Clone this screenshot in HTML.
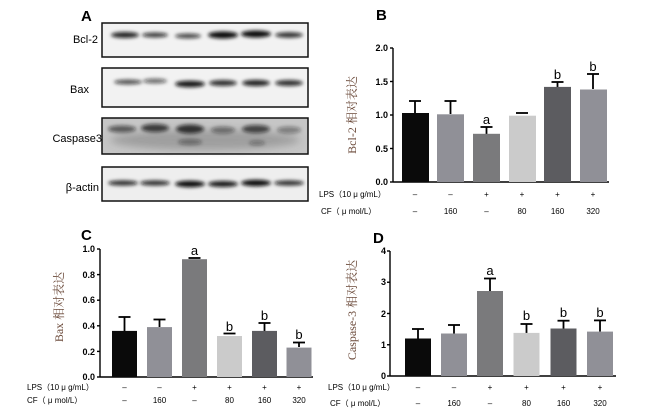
<!DOCTYPE html>
<html><head><meta charset="utf-8"><style>
html,body{margin:0;padding:0;background:#fff;}
svg{display:block;}
text{font-family:"Liberation Sans","Noto Sans CJK SC",sans-serif;}
.tk{font-size:9px;font-weight:bold;text-anchor:end;}
.xl{font-size:8px;text-anchor:middle;}
.rl{font-size:8px;}
.lt{font-size:13px;text-anchor:middle;}
.yl{font-family:"Liberation Serif","Noto Serif CJK SC",serif;font-size:12px;fill:#6b4a3a;text-anchor:middle;}
.pl{font-size:15px;font-weight:bold;}
.bl{font-size:11px;text-anchor:end;}
</style></head><body>
<svg width="652" height="414" viewBox="0 0 652 414">
<defs><filter id="bf" x="-20%" y="-100%" width="140%" height="300%"><feGaussianBlur stdDeviation="1.8"/></filter>
<filter id="bg" x="-10%" y="-50%" width="120%" height="200%"><feGaussianBlur stdDeviation="4"/></filter></defs>
<!-- Panel A -->
<text class="pl" x="81" y="21">A</text>
<g stroke="#111" stroke-width="1.5">
<rect x="102" y="23" width="206" height="34" fill="#f2f2f2"/>
<rect x="102" y="68" width="206" height="39" fill="#f2f2f2"/>
<rect x="102" y="118" width="206" height="36" fill="#c6c6c6"/>
<rect x="102" y="167" width="206" height="34" fill="#eeeeee"/>
</g>
<text class="bl" x="98" y="43">Bcl-2</text>
<text class="bl" x="89" y="93">Bax</text>
<text class="bl" x="102" y="142">Caspase3</text>
<text class="bl" x="99" y="191">β-actin</text>
<g filter="url(#bg)" fill="#555">
<ellipse cx="205" cy="140" rx="95" ry="10" opacity="0.35"/>
</g>
<g filter="url(#bf)" fill="#111">
<ellipse cx="125" cy="35" rx="14" ry="3" opacity="0.9"/>
<ellipse cx="155" cy="35" rx="13" ry="2.5" opacity="0.8"/>
<ellipse cx="188" cy="36" rx="13" ry="2.5" opacity="0.75"/>
<ellipse cx="223" cy="35" rx="15" ry="3.5" opacity="1"/>
<ellipse cx="256" cy="34" rx="15" ry="3.5" opacity="1"/>
<ellipse cx="289" cy="35" rx="14" ry="2.7" opacity="0.85"/>
<ellipse cx="128" cy="82" rx="14" ry="2.5" opacity="0.7"/>
<ellipse cx="155" cy="81" rx="12" ry="2.5" opacity="0.6"/>
<ellipse cx="190" cy="84" rx="15" ry="3.3" opacity="0.95"/>
<ellipse cx="223" cy="83" rx="14" ry="3" opacity="0.85"/>
<ellipse cx="256" cy="83" rx="14" ry="3.1" opacity="0.9"/>
<ellipse cx="289" cy="83" rx="14" ry="3" opacity="0.85"/>
<ellipse cx="122" cy="129" rx="14" ry="3.5" opacity="0.6"/>
<ellipse cx="155" cy="128" rx="14" ry="4" opacity="0.75"/>
<ellipse cx="190" cy="129" rx="14" ry="4.5" opacity="0.8"/>
<ellipse cx="190" cy="142" rx="12" ry="3" opacity="0.4"/>
<ellipse cx="223" cy="130" rx="12" ry="3.5" opacity="0.45"/>
<ellipse cx="256" cy="129" rx="14" ry="4" opacity="0.7"/>
<ellipse cx="257" cy="143" rx="8" ry="2.5" opacity="0.35"/>
<ellipse cx="289" cy="130" rx="12" ry="3.5" opacity="0.4"/>
<ellipse cx="123" cy="183" rx="15" ry="2.6" opacity="0.85"/>
<ellipse cx="155" cy="183" rx="15" ry="2.6" opacity="0.85"/>
<ellipse cx="190" cy="184" rx="15" ry="3.2" opacity="1"/>
<ellipse cx="223" cy="184" rx="15" ry="3" opacity="0.95"/>
<ellipse cx="256" cy="183" rx="15" ry="3.2" opacity="1"/>
<ellipse cx="289" cy="183" rx="15" ry="2.6" opacity="0.85"/>
</g>

<!-- Panel B -->
<text class="pl" x="376" y="20">B</text>
<text class="yl" transform="translate(356,115) rotate(-90)">Bcl-2 相对表达</text>
<g stroke="#000" stroke-width="1.4">
<line x1="393" y1="48" x2="393" y2="182"/><line x1="393" y1="182" x2="609" y2="182"/>
<line x1="390" y1="48" x2="393" y2="48"/><line x1="390" y1="81.5" x2="393" y2="81.5"/><line x1="390" y1="115" x2="393" y2="115"/><line x1="390" y1="148.5" x2="393" y2="148.5"/><line x1="390" y1="182" x2="393" y2="182"/>
</g>
<text class="tk" x="388" y="51">2.0</text><text class="tk" x="388" y="85">1.5</text><text class="tk" x="388" y="118">1.0</text><text class="tk" x="388" y="152">0.5</text><text class="tk" x="388" y="185">0.0</text>
<g stroke="#000" stroke-width="1.8">
<line x1="415" y1="113" x2="415" y2="101"/><line x1="409" y1="101" x2="421" y2="101"/>
<line x1="450.5" y1="114" x2="450.5" y2="101"/><line x1="444.5" y1="101" x2="456.5" y2="101"/>
<line x1="486.5" y1="134" x2="486.5" y2="127"/><line x1="480.5" y1="127" x2="492.5" y2="127"/>
<line x1="516" y1="113" x2="528" y2="113"/>
<line x1="557.5" y1="87" x2="557.5" y2="82"/><line x1="551.5" y1="82" x2="563.5" y2="82"/>
<line x1="593" y1="89" x2="593" y2="74"/><line x1="587" y1="74" x2="599" y2="74"/>
</g>
<rect x="402" y="113" width="27" height="69" fill="#0a0a0a"/>
<rect x="437" y="114.3" width="27" height="67.7" fill="#909097"/>
<rect x="473" y="133.8" width="27" height="48.2" fill="#7a7a7c"/>
<rect x="509" y="115.7" width="27" height="66.3" fill="#cbcbcb"/>
<rect x="544" y="86.9" width="27" height="95.1" fill="#5c5c60"/>
<rect x="580" y="89.5" width="27" height="92.5" fill="#909097"/>
<text class="lt" x="486.5" y="124">a</text><text class="lt" x="557.5" y="79">b</text><text class="lt" x="593" y="71">b</text>
<text class="rl" x="319" y="197">LPS（10 μ g/mL）</text>
<text class="rl" x="321" y="214">CF（ μ mol/L）</text>
<g class="xl"><text x="415" y="197">–</text><text x="450.5" y="197">–</text><text x="486.5" y="197">+</text><text x="522" y="197">+</text><text x="557.5" y="197">+</text><text x="593" y="197">+</text>
<text x="415" y="214">–</text><text x="450.5" y="214">160</text><text x="486.5" y="214">–</text><text x="522" y="214">80</text><text x="557.5" y="214">160</text><text x="593" y="214">320</text></g>

<!-- Panel C -->
<text class="pl" x="81" y="240">C</text>
<text class="yl" transform="translate(63,307) rotate(-90)">Bax 相对表达</text>
<g stroke="#000" stroke-width="1.4">
<line x1="100" y1="249" x2="100" y2="377"/><line x1="100" y1="377" x2="313" y2="377"/>
<line x1="97" y1="249" x2="100" y2="249"/><line x1="97" y1="274.6" x2="100" y2="274.6"/><line x1="97" y1="300.2" x2="100" y2="300.2"/><line x1="97" y1="325.8" x2="100" y2="325.8"/><line x1="97" y1="351.4" x2="100" y2="351.4"/><line x1="97" y1="377" x2="100" y2="377"/>
</g>
<text class="tk" x="95" y="252">1.0</text><text class="tk" x="95" y="278">0.8</text><text class="tk" x="95" y="303">0.6</text><text class="tk" x="95" y="329">0.4</text><text class="tk" x="95" y="355">0.2</text><text class="tk" x="95" y="380">0.0</text>
<g stroke="#000" stroke-width="1.8">
<line x1="124.5" y1="331" x2="124.5" y2="317"/><line x1="118.5" y1="317" x2="130.5" y2="317"/>
<line x1="159.5" y1="327" x2="159.5" y2="319.5"/><line x1="153.5" y1="319.5" x2="165.5" y2="319.5"/>
<line x1="188.5" y1="258" x2="200.5" y2="258"/>
<line x1="223.5" y1="333.5" x2="235.5" y2="333.5"/>
<line x1="264.5" y1="331" x2="264.5" y2="323"/><line x1="258.5" y1="323" x2="270.5" y2="323"/>
<line x1="299" y1="347" x2="299" y2="342.5"/><line x1="293" y1="342.5" x2="305" y2="342.5"/>
</g>
<rect x="112" y="330.9" width="25" height="46.1" fill="#0a0a0a"/>
<rect x="147" y="327.1" width="25" height="49.9" fill="#909097"/>
<rect x="182" y="259.2" width="25" height="117.8" fill="#7a7a7c"/>
<rect x="217" y="336" width="25" height="41" fill="#cbcbcb"/>
<rect x="252" y="330.9" width="25" height="46.1" fill="#5c5c60"/>
<rect x="286.5" y="347.6" width="25" height="29.4" fill="#909097"/>
<text class="lt" x="194.5" y="255">a</text><text class="lt" x="229.5" y="331">b</text><text class="lt" x="264.5" y="320">b</text><text class="lt" x="299" y="339">b</text>
<text class="rl" x="27" y="390">LPS（10 μ g/mL）</text>
<text class="rl" x="27" y="403">CF（ μ mol/L）</text>
<g class="xl"><text x="124.5" y="390">–</text><text x="159.5" y="390">–</text><text x="194.5" y="390">+</text><text x="229.5" y="390">+</text><text x="264.5" y="390">+</text><text x="299" y="390">+</text>
<text x="124.5" y="403">–</text><text x="159.5" y="403">160</text><text x="194.5" y="403">–</text><text x="229.5" y="403">80</text><text x="264.5" y="403">160</text><text x="299" y="403">320</text></g>

<!-- Panel D -->
<text class="pl" x="373" y="243">D</text>
<text class="yl" transform="translate(356,310) rotate(-90)">Caspase-3 相对表达</text>
<g stroke="#000" stroke-width="1.4">
<line x1="390" y1="251" x2="390" y2="376"/><line x1="390" y1="376" x2="616" y2="376"/>
<line x1="387" y1="251" x2="390" y2="251"/><line x1="387" y1="282.25" x2="390" y2="282.25"/><line x1="387" y1="313.5" x2="390" y2="313.5"/><line x1="387" y1="344.75" x2="390" y2="344.75"/><line x1="387" y1="376" x2="390" y2="376"/>
</g>
<text class="tk" x="386" y="254">4</text><text class="tk" x="386" y="285">3</text><text class="tk" x="386" y="317">2</text><text class="tk" x="386" y="348">1</text><text class="tk" x="386" y="379">0</text>
<g stroke="#000" stroke-width="1.8">
<line x1="418" y1="338.5" x2="418" y2="329"/><line x1="412" y1="329" x2="424" y2="329"/>
<line x1="454" y1="333.5" x2="454" y2="325"/><line x1="448" y1="325" x2="460" y2="325"/>
<line x1="490" y1="291" x2="490" y2="278.5"/><line x1="484" y1="278.5" x2="496" y2="278.5"/>
<line x1="526.5" y1="333" x2="526.5" y2="324"/><line x1="520.5" y1="324" x2="532.5" y2="324"/>
<line x1="563.5" y1="328.5" x2="563.5" y2="320.7"/><line x1="557.5" y1="320.7" x2="569.5" y2="320.7"/>
<line x1="600" y1="331.6" x2="600" y2="320.4"/><line x1="594" y1="320.4" x2="606" y2="320.4"/>
</g>
<rect x="405" y="338.5" width="26" height="37.5" fill="#0a0a0a"/>
<rect x="441" y="333.5" width="26" height="42.5" fill="#909097"/>
<rect x="477" y="291" width="26" height="85" fill="#7a7a7c"/>
<rect x="513.5" y="332.9" width="26" height="43.1" fill="#cbcbcb"/>
<rect x="550.5" y="328.5" width="26" height="47.5" fill="#5c5c60"/>
<rect x="587" y="331.6" width="26" height="44.4" fill="#909097"/>
<text class="lt" x="490" y="275">a</text><text class="lt" x="526.5" y="320">b</text><text class="lt" x="563.5" y="317">b</text><text class="lt" x="600" y="317">b</text>
<text class="rl" x="328" y="390">LPS（10 μ g/mL）</text>
<text class="rl" x="330" y="406">CF（ μ mol/L）</text>
<g class="xl"><text x="418" y="390">–</text><text x="454" y="390">–</text><text x="490" y="390">+</text><text x="526.5" y="390">+</text><text x="563.5" y="390">+</text><text x="600" y="390">+</text>
<text x="418" y="406">–</text><text x="454" y="406">160</text><text x="490" y="406">–</text><text x="526.5" y="406">80</text><text x="563.5" y="406">160</text><text x="600" y="406">320</text></g>
</svg>
</body></html>
